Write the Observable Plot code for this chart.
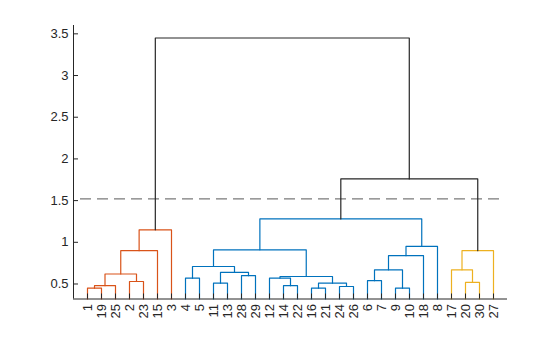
<!DOCTYPE html>
<html><head><meta charset="utf-8">
<script src="https://cdn.jsdelivr.net/npm/d3@7"></script>
<script src="https://cdn.jsdelivr.net/npm/@observablehq/plot@0.6"></script>
<style>html,body{margin:0;padding:0;background:#fff;}</style>
</head><body><div id="chart"></div>
<script>
// Leaf labels in dendrogram order (left to right)
const leafOrder = [1,19,25,2,23,15,3,4,5,11,13,28,29,12,14,22,16,21,24,26,6,7,9,10,18,8,17,20,30,27];
// Linkage: children (leaf number, or "mK" for merge K, 1-based), merge height, colour group
const mergeA = [1,16,9,24,"m1",14,11,"m2",20,2,6,4,12,"m13",28,"m5","m7","m11",17,"m12","m18","m16","m19","m20","m21","m22","m24","m27","m26"];
const mergeB = [19,21,10,26,25,22,13,"m4",30,23,7,5,"m6","m8",29,"m10","m15","m3","m9","m17",18,15,27,"m14",8,3,"m25","m23","m28"];
const mergeHeight = [0.45,0.45,0.45,0.47,0.48,0.48,0.51,0.51,0.52,0.53,0.54,0.57,0.57,0.59,0.60,0.62,0.64,0.67,0.67,0.71,0.84,0.90,0.90,0.91,0.95,1.15,1.28,1.76,3.45];
const mergeGroup = ["o","b","b","b","o","b","b","b","y","o","b","b","b","b","b","o","b","b","y","b","b","o","y","b","b","o","b","k","k"];
const groupColor = {o: "#D95319", b: "#0072BD", y: "#EDB120", k: "#262626"};
const cutoff = 1.52;
const yTicks = [0.5, 1, 1.5, 2, 2.5, 3, 3.5];
const yDomain = [0.32, 3.6];

const W = 560, H = 337, mL = 73, mR = 53, mT = 25, mB = 38.5;
const n = leafOrder.length;
const leafPos = d3.range(1, n + 1);

const nodeX = new Map(), nodeY = new Map();
leafOrder.forEach((leaf, i) => { nodeX.set(String(leaf), i + 1); nodeY.set(String(leaf), yDomain[0]); });
const segs = [];
mergeA.forEach((a, k) => {
  const b = mergeB[k], h = mergeHeight[k], color = groupColor[mergeGroup[k]];
  const xa = nodeX.get(String(a)), xb = nodeX.get(String(b));
  const ya = nodeY.get(String(a)), yb = nodeY.get(String(b));
  segs.push({link: k, x: xa, y: ya, color}, {link: k, x: xa, y: h, color},
            {link: k, x: xb, y: h, color}, {link: k, x: xb, y: yb, color});
  nodeX.set("m" + (k + 1), (xa + xb) / 2); nodeY.set("m" + (k + 1), h);
});

const axisColor = "#262626";
const frameW = W - mL - mR, frameH = H - mT - mB;

const chart = Plot.plot({
  width: W, height: H,
  marginLeft: mL, marginRight: mR, marginTop: mT, marginBottom: mB,
  style: {fontFamily: "'Liberation Sans', Arial, Helvetica, sans-serif", fontSize: "13px", color: axisColor, background: "#fff", overflow: "visible"},
  x: {domain: [0, n + 1], axis: null},
  y: {domain: yDomain, axis: null},
  color: {type: "identity"},
  marks: [
    Plot.ruleY([cutoff], {x1: 0.5, x2: n + 0.5, stroke: "#7a7a7a", strokeWidth: 1.2, strokeDasharray: "11,6"}),
    Plot.line(segs, {x: "x", y: "y", z: "link", stroke: "color", strokeWidth: 1.2, curve: "linear"}),
    Plot.ruleX([0], {stroke: axisColor}),
    Plot.ruleY([yDomain[0]], {stroke: axisColor}),
    Plot.ruleY(yTicks, {stroke: axisColor, insetRight: frameW - 5}),
    Plot.ruleX(leafPos, {stroke: axisColor, insetTop: frameH - 5}),
    Plot.axisY(yTicks, {anchor: "left", label: null, tickSize: 0, tickPadding: 5, tickFormat: d => String(d), fill: axisColor}),
    Plot.axisX(leafPos, {anchor: "bottom", label: null, tickSize: 0, tickPadding: 5, tickRotate: -90, tickFormat: i => String(leafOrder[i - 1]), fill: axisColor})
  ]
});
document.getElementById("chart").appendChild(chart);
</script>
</body></html>
